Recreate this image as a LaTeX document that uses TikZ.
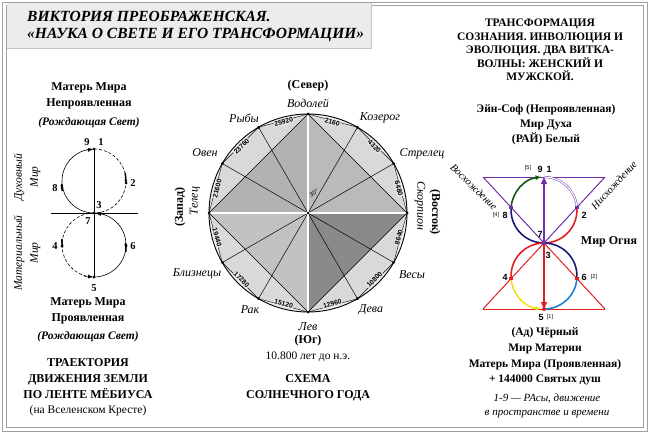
\documentclass[tikz,border=0pt]{standalone}
\usepackage{fontspec}
\setmainfont{Liberation Serif}
\newfontfamily\numfont{Liberation Sans}
\usetikzlibrary{arrows.meta,calc}
\definecolor{vio}{RGB}{112,48,170}
\definecolor{rd}{RGB}{225,30,30}
\definecolor{nv}{RGB}{25,25,120}
\definecolor{gn}{RGB}{25,85,25}
\definecolor{yl}{RGB}{240,225,30}
\definecolor{bl}{RGB}{30,130,210}
\definecolor{frm}{RGB}{160,160,160}
\begin{document}
\begin{tikzpicture}[x=1pt,y=1pt,
  ttl/.style={font=\fontsize{15.5}{17}\selectfont\bfseries\itshape, align=left, anchor=west, inner sep=0},
  hd/.style={font=\fontsize{12}{16}\selectfont\bfseries, align=center, inner sep=0},
  hdr/.style={font=\fontsize{11.5}{13.5}\selectfont\bfseries, align=center, inner sep=0},
  bi/.style={font=\fontsize{11.5}{14}\selectfont\bfseries\itshape, inner sep=0},
  zod/.style={font=\fontsize{12}{14}\selectfont\itshape, inner sep=0},
  rg/.style={font=\fontsize{11.5}{14}\selectfont, inner sep=0},
  num/.style={font=\numfont\bfseries\fontsize{6.8}{7}\selectfont, inner sep=0.5pt, fill=black!10},
  lnum/.style={font=\fontsize{10.5}{12}\selectfont\bfseries, inner sep=0},
  rnum/.style={font=\numfont\bfseries\fontsize{9}{10}\selectfont, inner sep=0},
  snum/.style={font=\numfont\fontsize{5.5}{6}\selectfont, inner sep=0},
  dotb/.style={circle, fill=black, inner sep=0, minimum size=3pt},
  mk/.style={line width=1.5pt, -{Latex[length=3pt,width=3pt]}},
  sqv/.style={rectangle, fill=vio, inner sep=0, minimum size=3.5pt},
  sqr/.style={rectangle, fill=rd, inner sep=0, minimum size=3.5pt},
  arcw/.style={line width=1.6pt}
]
\useasboundingbox (0,0) rectangle (650,-433);
% frame
\draw[frm, line width=0.8pt] (2.5,-2.5) rectangle (647,-431);
\draw[frm, line width=0.8pt] (6.5,-5.5) rectangle (643,-427);
\fill[gray!15] (7,-3) rectangle (371,-48);
\draw[gray!45, line width=0.5pt] (7,-48) -- (371,-48) -- (371,-3);
\node[ttl] (title) at (27,-26.5) {ВИКТОРИЯ ПРЕОБРАЖЕНСКАЯ.\\«НАУКА О СВЕТЕ И ЕГО ТРАНСФОРМАЦИИ»};

% ================= LEFT PANEL =================
\node[hd] (lt1) at (89,-96) {Матерь Мира\\Непроявленная};
\node[bi] (lt2) at (89,-123) {(Рождающая Свет)};
\node[zod, rotate=90, align=center, font=\fontsize{11.5}{16}\selectfont\itshape] (dux) at (27,-177) {Духовный\\Мир};
\node[zod, rotate=90, align=center, font=\fontsize{11.5}{16}\selectfont\itshape] (mat) at (27,-253) {Материальный\\Мир};
\coordinate (Lt) at (94,-149);
\coordinate (Lm) at (94,-213);
\coordinate (Lb) at (94,-277);
\coordinate (Hl) at (51,-213);
\coordinate (Hr) at (138,-213);
\draw[line width=0.5pt] (Lt) -- (Lb);
\draw[line width=0.5pt] (Hl) -- (Hr);
\draw[line width=0.6pt] (Lt) arc[start angle=90,end angle=270,radius=32];
\draw[line width=0.6pt,dash pattern=on 3pt off 2pt] (Lt) arc[start angle=90,end angle=-90,radius=32];
\draw[line width=0.6pt,dash pattern=on 3pt off 2pt] (Lm) arc[start angle=90,end angle=270,radius=32];
\draw[line width=0.6pt] (Lm) arc[start angle=90,end angle=-90,radius=32];
% marks
\coordinate (a9s) at (86,-150.2); \coordinate (a9e) at (93,-149.1);
\draw[-{Latex[length=5pt,width=4pt]}] (a9s) -- (a9e);
\coordinate (a2s) at (125.3,-173); \coordinate (a2e) at (126,-183);
\draw[mk] (a2s) -- (a2e);
\coordinate (a8s) at (62.2,-191); \coordinate (a8e) at (61.6,-183);
\draw[mk] (a8s) -- (a8e);
\coordinate (a4s) at (61.8,-239); \coordinate (a4e) at (62.3,-248);
\draw[mk] (a4s) -- (a4e);
\coordinate (a6s) at (126,-252); \coordinate (a6e) at (125.6,-242);
\draw[mk] (a6s) -- (a6e);
\coordinate (a5s) at (84,-276.2); \coordinate (a5e) at (93,-277);
\draw[-{Latex[length=5pt,width=4pt]}] (a5s) -- (a5e);
\coordinate (a3s) at (105,-214.5); \coordinate (a3e) at (96,-213.2);
\draw[-{Latex[length=5pt,width=4pt]}] (a3s) -- (a3e);
\node[dotb] (p91) at (Lt) {};
\node[dotb] (p2) at (126,-183) {};
\node[dotb] (p8) at (62,-188) {};
\node[dotb] (p37) at (Lm) {};
\node[dotb] (p4) at (62,-246) {};
\node[dotb] (p6) at (126,-246) {};
\node[dotb] (p5) at (Lb) {};
\node[lnum] (l9) at (87,-142) {9};
\node[lnum] (l1) at (101,-142) {1};
\node[lnum] (l8) at (55,-188) {8};
\node[lnum] (l2) at (133,-183) {2};
\node[lnum] (l3) at (99,-205) {3};
\node[lnum] (l7) at (88,-221) {7};
\node[lnum] (l4) at (55,-246) {4};
\node[lnum] (l6) at (133,-246) {6};
\node[lnum] (l5) at (94,-288) {5};
\node[hd] (lb1) at (88,-310.5) {Матерь Мира\\Проявленная};
\node[bi] (lb2) at (88,-337) {(Рождающая Свет)};
\node[hd] (lb3) at (88,-378.5) {ТРАЕКТОРИЯ\\ДВИЖЕНИЯ ЗЕМЛИ\\ПО ЛЕНТЕ МЁБИУСА};
\node[rg] (lb4) at (88,-411) {(на Вселенском Кресте)};

% ================= CENTER =================
\begin{scope}[shift={(308,-213)}]
\fill[black!6] (0,0) circle (99);
\fill[black!15] (0:99) -- (30:99) -- (60:99) -- (90:99) -- (120:99) -- (150:99) -- (180:99) -- (210:99) -- (240:99) -- (270:99) -- (300:99) -- (330:99) -- cycle;
\fill[black!30] (90:99) -- (180:99) -- (0,0) -- cycle;
\fill[black!27] (90:99) -- (0:99) -- (0,0) -- cycle;
\fill[black!24] (180:99) -- (270:99) -- (0,0) -- cycle;
\fill[black!46] (0:99) -- (270:99) -- (0,0) -- cycle;
\foreach \a [count=\i] in {0,30,...,330} \coordinate (z\i) at (\a:99);
\coordinate (C) at (0,0);
\draw[line width=0.4pt] (z1) -- (z2) -- (z3) -- (z4) -- (z5) -- (z6) -- (z7) -- (z8) -- (z9) -- (z10) -- (z11) -- (z12) -- cycle;
\draw[line width=0.5pt] (z1) -- (z4) -- (z7) -- (z10) -- cycle;
\foreach \i in {2,3,5,6,8,9,11,12} \draw[line width=0.5pt] (C) -- (z\i);
\draw[line width=0.45pt, double, double distance=1.3pt] (z4) -- (z10);
\draw[line width=0.45pt, double, double distance=1.3pt] (z7) -- (z1);
\draw[line width=0.9pt] (C) circle (99);
\foreach \a/\t [count=\i] in {15/6480,45/4320,75/2160,105/25920,135/23760,165/21600,195/19440,225/17280,255/15120,285/12960,315/10800,345/8640}{
  \pgfmathsetmacro\rot{\a<180 ? \a-90 : \a-270}
  \node[num, rotate=\rot] (nm\i) at (\a:94) {\t};
}
\foreach \i in {1,...,12} \node[dotb] (zd\i) at (z\i) {};
\node[dotb] (cd) at (C) {};
\node[font=\numfont\fontsize{6}{6}\selectfont, rotate=30, inner sep=0] (deg) at (6,20) {30°};
\end{scope}
\node[hd] (north) at (308,-86) {(Север)};
\node[zod] (vod) at (308,-103) {Водолей};
\node[zod] (koz) at (380,-118) {Козерог};
\node[zod] (str) at (422,-154) {Стрелец};
\node[zod, rotate=-90] (sko) at (420,-206) {Скорпион};
\node[hd, rotate=-90] (east) at (435,-212) {(Восток)};
\node[zod] (ves) at (412,-275) {Весы};
\node[zod] (dev) at (371,-310) {Дева};
\node[zod] (lev) at (308,-327) {Лев};
\node[hd] (south) at (308,-341) {(Юг)};
\node[rg] (era) at (308,-357) {10.800 лет до н.э.};
\node[hd] (sch) at (308,-387.5) {СХЕМА\\СОЛНЕЧНОГО ГОДА};
\node[zod] (rak) at (250,-310) {Рак};
\node[zod] (blz) at (197,-274) {Близнецы};
\node[zod, rotate=90] (tel) at (195,-201) {Телец};
\node[hd, rotate=90] (west) at (180,-207) {(Запад)};
\node[zod] (ove) at (205,-153) {Овен};
\node[zod] (ryb) at (244,-118) {Рыбы};

% ================= RIGHT PANEL =================
\node[hdr] (rt1) at (540,-50) {ТРАНСФОРМАЦИЯ\\СОЗНАНИЯ. ИНВОЛЮЦИЯ И\\ЭВОЛЮЦИЯ. ДВА ВИТКА-\\ВОЛНЫ: ЖЕНСКИЙ И\\МУЖСКОЙ.};
\node[hd, font=\fontsize{11.5}{15}\selectfont\bfseries] (rt2) at (546,-125) {Эйн-Соф (Непроявленная)\\Мир Духа\\(РАЙ) Белый};
\coordinate (O) at (544,-243);
\coordinate (T) at (544,-177);
\coordinate (B) at (544,-309);
\coordinate (TL) at (483,-177);
\coordinate (TR) at (605,-177);
\coordinate (BL) at (483,-309);
\coordinate (BR) at (605,-309);
\coordinate (P8) at (511.1,-207.4);
\coordinate (P2) at (576.9,-207.4);
\coordinate (P4) at (511.1,-278.6);
\coordinate (P6) at (576.9,-278.6);
\draw[vio, line width=1pt] (TL) -- (TR);
\draw[vio, line width=1pt] (TL) -- (O);
\draw[vio, line width=1pt] (TR) -- (O);
\draw[rd, line width=1pt] (BL) -- (BR);
\draw[rd, line width=1pt] (O) -- (BL);
\draw[rd, line width=1pt] (O) -- (BR);
% arcs upper (center 544,-210 r 33)
\draw[nv, arcw] (O) arc[start angle=270,end angle=175.5,radius=33];
\draw[gn, arcw, -{Latex[length=6pt,width=5pt]}, shorten >=-1pt] (P8) arc[start angle=175.5,end angle=96,radius=33];
\draw[vio, line width=0.45pt, double, double distance=1.2pt] (T) arc[start angle=90,end angle=4.5,radius=33];
\draw[rd, arcw] (P2) arc[start angle=4.5,end angle=-90,radius=33];
% arcs lower (center 544,-276 r 33)
\draw[nv, arcw] (O) arc[start angle=90,end angle=-4.5,radius=33];
\draw[bl, arcw] (P6) arc[start angle=-4.5,end angle=-90,radius=33];
\draw[rd, arcw] (O) arc[start angle=90,end angle=184.5,radius=33];
\draw[yl, arcw, -{Latex[length=6pt,width=5pt]}, shorten >=-1pt] (P4) arc[start angle=184.5,end angle=264,radius=33];
\draw[vio, line width=1.3pt, -{Triangle[length=7pt,width=6pt]}] (O) -- (T);
\draw[rd, line width=1.3pt, -{Triangle[length=7pt,width=6pt]}] (O) -- (B);
\node[sqv] (m8) at (P8) {};
\node[sqv] (m2) at (P2) {};
\node[sqv] (mO) at (O) {};
\node[sqr] (m4) at (P4) {};
\node[sqr] (m6) at (P6) {};
\node[circle, fill=rd, inner sep=0, minimum size=4pt] (m5) at (B) {};
\node[snum] (r5b) at (528,-168) {[5]};
\node[rnum] (r9) at (540,-169) {9};
\node[rnum] (r1) at (549,-169) {1};
\node[snum] (r4b) at (496,-215) {[4]};
\node[rnum] (r8) at (505,-215) {8};
\node[rnum] (r2) at (584,-215) {2};
\node[rnum] (r7) at (540,-234) {7};
\node[rnum] (r3) at (548,-255) {3};
\node[rnum] (r4) at (505,-277) {4};
\node[rnum] (r6) at (584,-277) {6};
\node[snum] (r2b) at (594,-277) {[2]};
\node[rnum] (r5) at (541,-317) {5};
\node[snum] (r1b) at (550,-317) {[1]};
\node[zod, rotate=-44, font=\fontsize{10.5}{12}\selectfont\itshape] (vos) at (474,-187) {Восхождение};
\node[zod, rotate=47, font=\fontsize{10.5}{12}\selectfont\itshape] (nis) at (614,-185) {Нисхождение};
\node[hd] (fire) at (609,-242) {Мир Огня};
\node[hd, font=\fontsize{11.5}{15.7}\selectfont\bfseries] (rb1) at (545,-356.5) {(Ад) Чёрный\\Мир Материи\\Матерь Мира (Проявленная)\\+ 144000 Святых душ};
\node[zod, align=center, font=\fontsize{11}{14}\selectfont\itshape] (rb2) at (547,-406) {1-9 — РАсы, движение\\в пространстве и времени};
\end{tikzpicture}
\end{document}
